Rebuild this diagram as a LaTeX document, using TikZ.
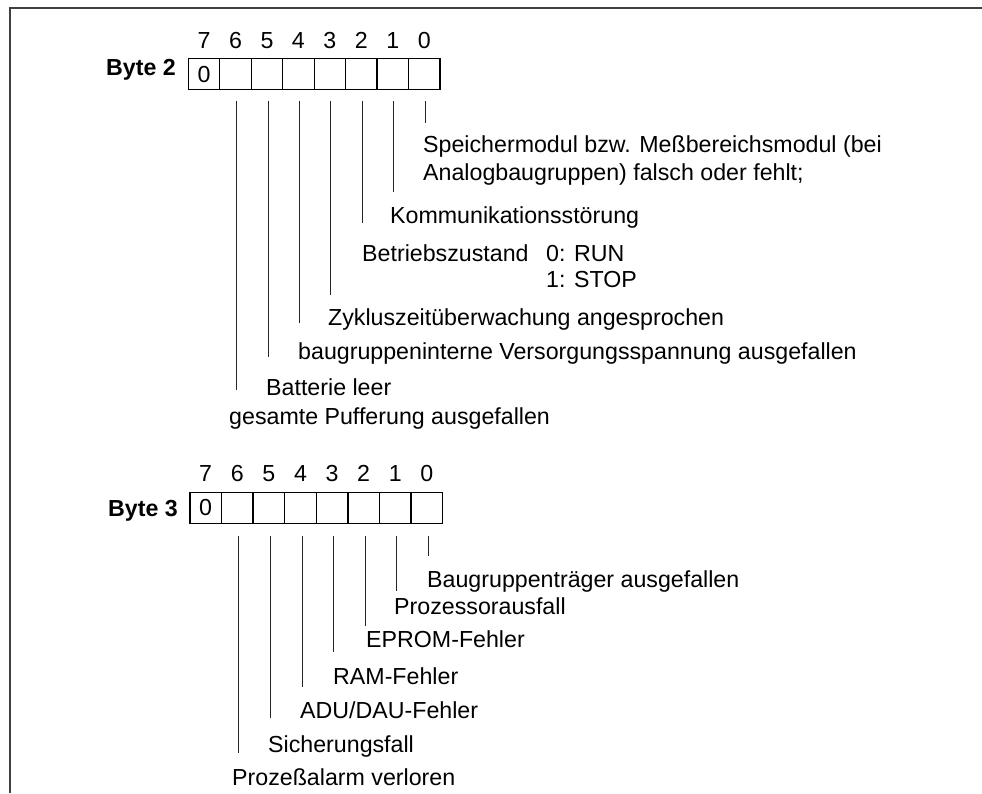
\documentclass[tikz,border=0pt]{standalone}
\usepackage{fontspec}
\setmainfont{Liberation Sans}
\usetikzlibrary{calc}
\begin{document}
\begin{tikzpicture}[x=1pt,y=-1pt,
  font=\fontsize{23.2}{28}\selectfont,
  cell/.style={draw, line width=1.2pt, minimum width=31.55pt, minimum height=31pt, inner sep=0pt, anchor=north west},
  lbl/.style={anchor=base west, inner sep=0pt},
  bitnum/.style={anchor=base, inner sep=0pt},
  bytelbl/.style={anchor=base east, inner sep=0pt, font=\fontsize{23.2}{28}\selectfont\bfseries},
  tick/.style={line width=0.9pt, draw=black!85},
  frameline/.style={line width=1.6pt, draw=black!75}]
\useasboundingbox (0,0) rectangle (982,793);
\draw[frameline] (10,793) -- (10,8) -- (982,8);

% ---------- Byte 2 ----------
\foreach \b in {7,...,0} {
  \node[cell] (b2c\b) at ({187.7+(7-\b)*31.45},58) {};
  \node[bitnum] (b2n\b) at ($(b2c\b.north)+(0,-10)$) {\b};
}
\node[inner sep=0pt] (b2z) at (b2c7.center) {0};
\node[bytelbl] (b2lbl) at (176,75) {Byte 2};

\node[lbl] (t20a) at (423,152) {Speichermodul bzw. Meßbereichsmodul (bei};
\node[lbl] (t20b) at (423,180) {Analogbaugruppen) falsch oder fehlt;};
\node[lbl] (t21) at (390,223) {Kommunikationsstörung};
\node[lbl] (t22) at (362,261) {Betriebszustand};
\node[lbl] (t22a) at (546,261) {0: RUN};
\node[lbl] (t22b) at (546,287) {1: STOP};
\node[lbl] (t23) at (328,325) {Zykluszeitüberwachung angesprochen};
\node[lbl] (t24) at (298,359) {baugruppeninterne Versorgungsspannung ausgefallen};
\node[lbl] (t25) at (266,395) {Batterie leer};
\node[lbl] (t26) at (229,424) {gesamte Pufferung ausgefallen};

\foreach \b/\e in {0/123,1/192,2/223,3/295,4/323,5/357,6/390} {
  \coordinate (b2s\b) at ($(b2c\b.south)+(1,11)$);
  \coordinate (b2e\b) at (b2s\b |- 0,\e);
  \draw[tick] (b2s\b) -- (b2e\b);
}

% ---------- Byte 3 ----------
\foreach \b in {7,...,0} {
  \node[cell] (b3c\b) at ({189.3+(7-\b)*31.6},491.7) {};
  \node[bitnum] (b3n\b) at ($(b3c\b.north)+(0,-10)$) {\b};
}
\node[inner sep=0pt] (b3z) at (b3c7.center) {0};
\node[bytelbl] (b3lbl) at (178,516) {Byte 3};

\node[lbl] (t30) at (427,587) {Baugruppenträger ausgefallen};
\node[lbl] (t31) at (394,614) {Prozessorausfall};
\node[lbl] (t32) at (366,647) {EPROM-Fehler};
\node[lbl] (t33) at (333,684) {RAM-Fehler};
\node[lbl] (t34) at (300,718) {ADU/DAU-Fehler};
\node[lbl] (t35) at (268,752) {Sicherungsfall};
\node[lbl] (t36) at (232,785) {Prozeßalarm verloren};

\foreach \b/\e in {0/556,1/591,2/626,3/652,4/687,5/718,6/753} {
  \coordinate (b3s\b) at ($(b3c\b.south)+(1.5,12)$);
  \coordinate (b3e\b) at (b3s\b |- 0,\e);
  \draw[tick] (b3s\b) -- (b3e\b);
}
\end{tikzpicture}
\end{document}
